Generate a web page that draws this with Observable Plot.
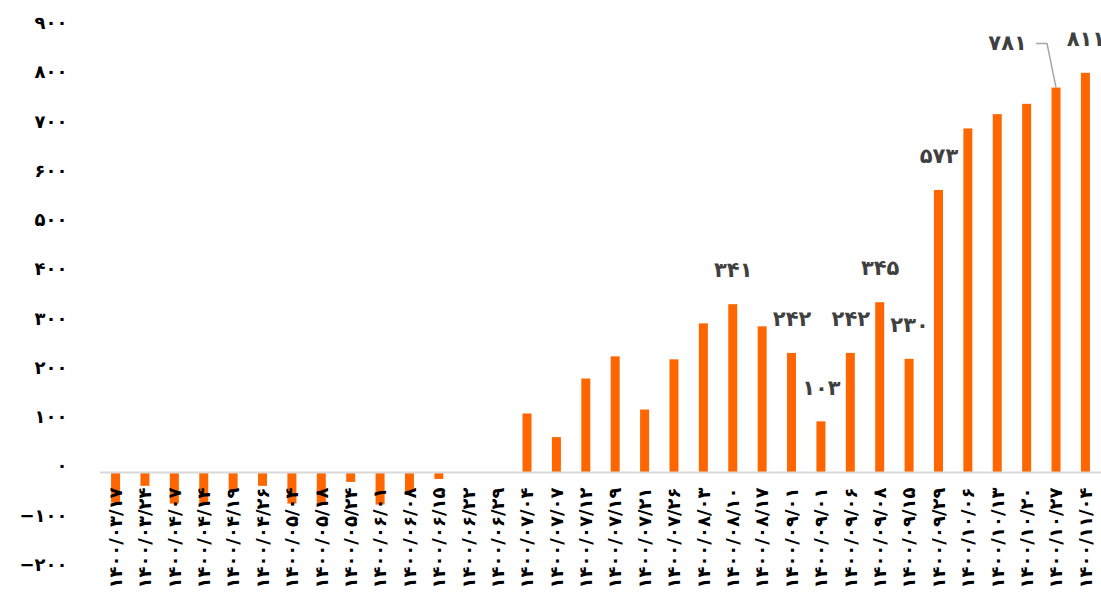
<!DOCTYPE html>
<html>
<head>
<meta charset="utf-8">
<script src="https://cdn.jsdelivr.net/npm/d3@7"></script>
<script src="https://cdn.jsdelivr.net/npm/@observablehq/plot@0.6"></script>
<style>
  html, body { margin: 0; padding: 0; background: #fff; }
  #chart svg { display: block; overflow: hidden; }
  g[aria-label="x-labels"] text { letter-spacing: 2px; }
  g[aria-label="value-labels"] text { letter-spacing: 1.5px; }
  g[aria-label="y-axis tick label"] text { letter-spacing: 1px; }
</style>
</head>
<body>
<div id="chart"></div>
<script>
const dates = [
  "۱۴۰۰/۰۳/۱۷", "۱۴۰۰/۰۳/۲۴", "۱۴۰۰/۰۴/۰۷", "۱۴۰۰/۰۴/۱۴", "۱۴۰۰/۰۴/۱۹", "۱۴۰۰/۰۴/۲۶",
  "۱۴۰۰/۰۵/۰۴", "۱۴۰۰/۰۵/۱۸", "۱۴۰۰/۰۵/۲۴", "۱۴۰۰/۰۶/۰۱", "۱۴۰۰/۰۶/۰۸", "۱۴۰۰/۰۶/۱۵",
  "۱۴۰۰/۰۶/۲۲", "۱۴۰۰/۰۶/۲۹", "۱۴۰۰/۰۷/۰۴", "۱۴۰۰/۰۷/۰۷", "۱۴۰۰/۰۷/۱۲", "۱۴۰۰/۰۷/۱۹",
  "۱۴۰۰/۰۷/۲۱", "۱۴۰۰/۰۷/۲۶", "۱۴۰۰/۰۸/۰۳", "۱۴۰۰/۰۸/۱۰", "۱۴۰۰/۰۸/۱۷", "۱۴۰۰/۰۹/۰۱",
  "۱۴۰۰/۰۹/۰۱", "۱۴۰۰/۰۹/۰۶", "۱۴۰۰/۰۹/۰۸", "۱۴۰۰/۰۹/۱۵", "۱۴۰۰/۰۹/۲۹", "۱۴۰۰/۱۰/۰۶",
  "۱۴۰۰/۱۰/۱۳", "۱۴۰۰/۱۰/۲۰", "۱۴۰۰/۱۰/۲۷", "۱۴۰۰/۱۱/۰۴"
];
const values = [
  -62, -28, -64, -64, -36, -28, -64, -65, -20, -66, -39, -14,
  0, 0, 119, 71, 190, 235, 127, 229, 302, 341, 296, 242,
  103, 242, 345, 230, 573, 698, 727, 748, 781, 811
];
const labeledIdx = [21, 23, 24, 25, 26, 27, 28, 33];
const calloutIdx = 32;
const yTicks = [-200, -100, 0, 100, 200, 300, 400, 500, 600, 700, 800, 900];

const faDigits = "۰۱۲۳۴۵۶۷۸۹";
const toFa = (n) => String(n).replace(/\d/g, (d) => faDigits[+d]);
const fmtY = (n) => (n < 0 ? "−" : "") + toFa(Math.abs(n));

const data = values.map((v, i) => ({i, v, date: dates[i]}));
const labeled = labeledIdx.map((i) => data[i]);
const callout = [data[calloutIdx]];

const chart = Plot.plot({
  width: 1101,
  height: 606,
  marginTop: 29,
  marginBottom: 35.5,
  marginLeft: 100,
  marginRight: 0,
  style: {fontFamily: "DejaVu Sans", fontWeight: "bold", color: "#000", background: "#fff"},
  x: {type: "band", domain: d3.range(values.length), paddingInner: 0.694, paddingOuter: 0.377, round: false, axis: null},
  y: {domain: [-200, 900], axis: null},
  marks: [
    Plot.barY(data, {x: "i", y: "v", fill: "#ff6600"}),
    Plot.ruleY([0], {stroke: "#d9d9d9", strokeWidth: 2}),
    Plot.axisY({
      ticks: yTicks, tickFormat: fmtY, tickSize: 0, tickPadding: 33,
      fontSize: 18, fontWeight: "bold", fill: "#000", dy: -6, label: null
    }),
    Plot.text(data, {
      x: "i", y: () => 0, text: "date", rotate: -90, textAnchor: "end",
      dy: 15, fontSize: 18, fontWeight: "bold", fill: "#000", ariaLabel: "x-labels"
    }),
    Plot.text(labeled, {
      x: "i", y: "v", text: (d) => toFa(d.v), dy: -34,
      fontSize: 21, fontWeight: "bold", fill: "#404040", ariaLabel: "value-labels"
    }),
    Plot.text(callout, {
      x: "i", y: "v", text: (d) => toFa(d.v), dx: -49, dy: -45,
      fontSize: 21, fontWeight: "bold", fill: "#404040", ariaLabel: "value-labels"
    })
  ]
});

// leader line for the callout label, positioned through the chart's own scales
const xs = chart.scale("x"), ys = chart.scale("y");
const cx = xs.apply(calloutIdx) + xs.bandwidth / 2;
const cy = ys.apply(values[calloutIdx]);
d3.select(chart).append("path")
  .attr("d", d3.line()([[cx, cy], [cx - 9, cy - 44], [cx - 20, cy - 44]]))
  .attr("fill", "none")
  .attr("stroke", "#a6a6a6")
  .attr("stroke-width", 1.5);

document.getElementById("chart").appendChild(chart);
</script>
</body>
</html>
